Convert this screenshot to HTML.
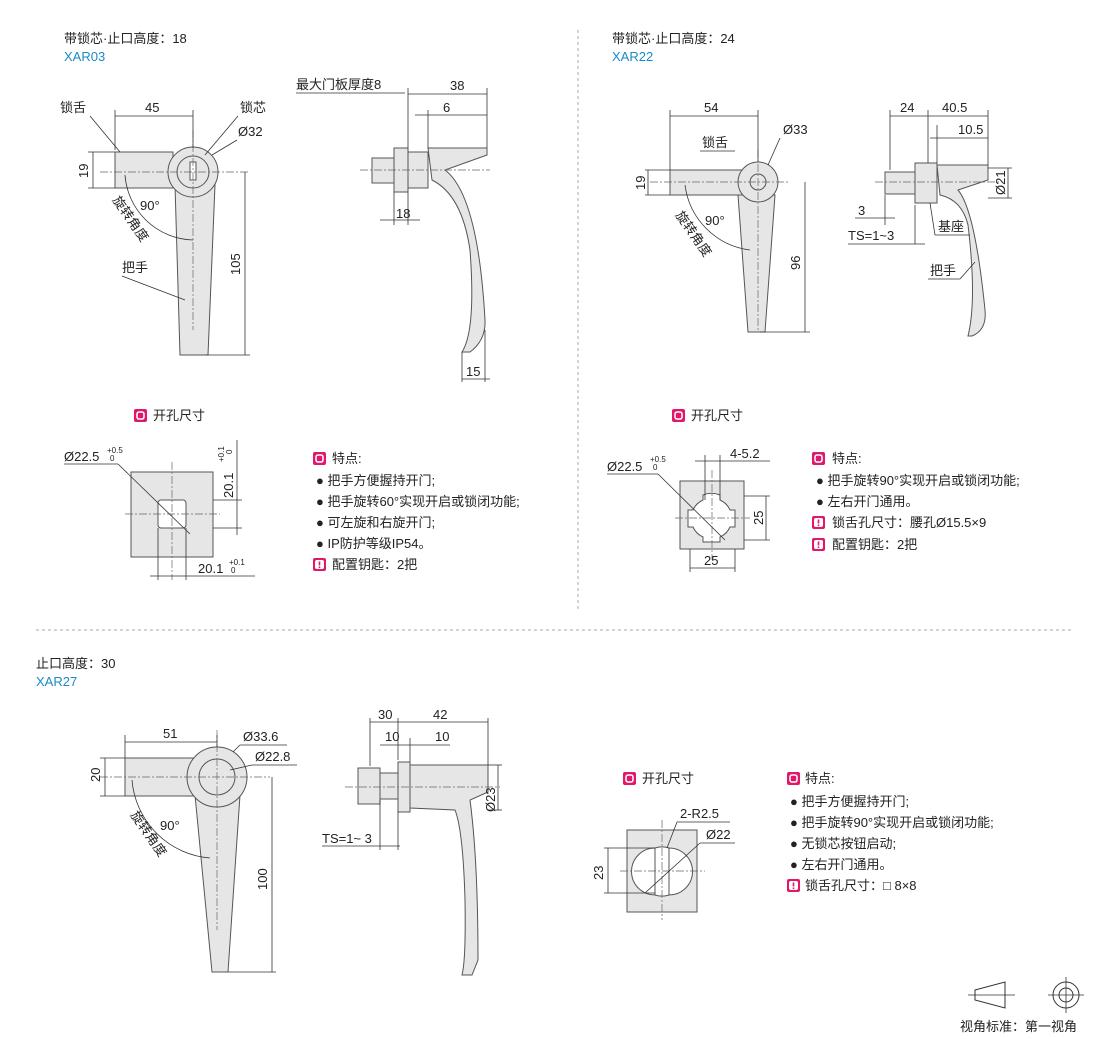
<!DOCTYPE html>
<html><head><meta charset="utf-8"><style>
html,body{margin:0;padding:0;background:#fff}
svg{display:block}
text{font-family:"Liberation Sans","Noto Sans CJK SC",sans-serif;font-size:13px;fill:#222}
text.s{font-size:8px}
.b{fill:#1a8ac8}
.p{fill:#e6e6e6;stroke:#555;stroke-width:1}
.l{stroke:#333;stroke-width:0.8;fill:none}
.c{stroke:#666;stroke-width:0.7;fill:none;stroke-dasharray:8 2 2 2}
.pk{fill:#e0186c;stroke:none}
.pi{fill:none;stroke:#fff;stroke-width:1.5}
</style></head><body>
<svg width="1110" height="1039" viewBox="0 0 1110 1039" xmlns="http://www.w3.org/2000/svg">
<defs>
<g id="ic"><rect class="pk" x="0" y="0" width="13" height="13" rx="2"/><rect class="pi" x="3" y="3" width="7" height="7" rx="2"/></g>
<g id="ex"><rect class="pk" x="0" y="0" width="13" height="13" rx="2"/><rect x="2" y="2" width="9" height="9" rx="2" fill="#fff"/><rect x="5.7" y="3.5" width="1.6" height="4" fill="#e0186c"/><rect x="5.7" y="8.5" width="1.6" height="1.6" fill="#e0186c"/></g>
</defs>
<line x1="578" y1="30" x2="578" y2="612" stroke="#aaa" stroke-dasharray="3 3"/>
<line x1="36" y1="630" x2="1072" y2="630" stroke="#aaa" stroke-dasharray="3 3"/>

<!-- Section 1 -->
<text x="64" y="43">带锁芯·止口高度：18</text>
<text x="64" y="61" class="b">XAR03</text>
<rect class="p" x="115" y="152" width="58" height="36"/>
<polygon class="p" points="175,185 215,185 208,355 180,355"/>
<circle class="p" cx="193" cy="172" r="25"/><circle class="p" cx="193" cy="172" r="16"/>
<rect x="190" y="162" width="6" height="18" fill="#fff" stroke="#555"/>
<line class="c" x1="100" y1="172" x2="250" y2="172"/><line class="c" x1="193" y1="130" x2="193" y2="330"/>
<line class="l" x1="115" y1="110" x2="115" y2="150"/><line class="l" x1="193" y1="110" x2="193" y2="148"/>
<line class="l" x1="115" y1="116" x2="193" y2="116"/><text x="145" y="112">45</text>
<line class="l" x1="88" y1="152" x2="115" y2="152"/><line class="l" x1="88" y1="188" x2="115" y2="188"/>
<line class="l" x1="93" y1="152" x2="93" y2="188"/><text x="88" y="178" transform="rotate(-90 88 178)">19</text>
<line class="l" x1="205" y1="355" x2="250" y2="355"/><line class="l" x1="245" y1="172" x2="245" y2="355"/>
<text x="240" y="275" transform="rotate(-90 240 275)">105</text>
<text x="60" y="112">锁舌</text><line class="l" x1="90" y1="116" x2="120" y2="152"/>
<text x="240" y="112">锁芯</text><line class="l" x1="238" y1="116" x2="205" y2="155"/>
<text x="238" y="136">Ø32</text><line class="l" x1="237" y1="140" x2="212" y2="155"/>
<path class="l" d="M125,175 A70,70 0 0 0 193,240"/>
<text x="140" y="210">90°</text>
<text x="112" y="200" transform="rotate(55 112 200)">旋转角度</text>
<text x="122" y="272">把手</text><line class="l" x1="122" y1="276" x2="185" y2="300"/>
<!-- side -->
<rect class="p" x="372" y="158" width="22" height="25"/>
<rect class="p" x="394" y="148" width="14" height="44"/>
<rect class="p" x="408" y="152" width="20" height="36"/>
<path class="p" d="M428,148 L487,148 L487,155 L445,170 Q478,195 485,320 Q486,340 470,352 L462,352 Q476,330 470,250 Q462,195 432,180 Z"/>
<line class="c" x1="360" y1="170" x2="490" y2="170"/>
<text x="296" y="89">最大门板厚度8</text><line class="l" x1="296" y1="93" x2="405" y2="93"/>
<line class="l" x1="408" y1="88" x2="408" y2="148"/><line class="l" x1="487" y1="88" x2="487" y2="148"/>
<line class="l" x1="408" y1="94" x2="487" y2="94"/><text x="450" y="90">38</text>
<line class="l" x1="428" y1="110" x2="428" y2="148"/><line class="l" x1="415" y1="115" x2="487" y2="115"/><text x="443" y="112">6</text>
<line class="l" x1="394" y1="192" x2="394" y2="225"/><line class="l" x1="408" y1="192" x2="408" y2="225"/>
<line class="l" x1="380" y1="220" x2="420" y2="220"/><text x="396" y="218">18</text>
<line class="l" x1="462" y1="352" x2="462" y2="382"/><line class="l" x1="485" y1="330" x2="485" y2="382"/>
<line class="l" x1="462" y1="379" x2="490" y2="379"/><text x="466" y="376">15</text>
<!-- hole -->
<use href="#ic" x="134" y="409"/><text x="153" y="420">开孔尺寸</text>
<rect class="p" x="131" y="472" width="82" height="85" stroke="#999"/>
<rect x="158" y="500" width="28" height="28" fill="#fff" stroke="#555" rx="3"/>
<line class="c" x1="125" y1="514" x2="220" y2="514"/><line class="c" x1="172" y1="462" x2="172" y2="580"/>
<text x="64" y="461">Ø22.5</text><text class="s" x="107" y="453">+0.5</text><text class="s" x="110" y="461">0</text>
<line class="l" x1="64" y1="464" x2="118" y2="464"/><line class="l" x1="118" y1="464" x2="190" y2="534"/>
<line class="l" x1="213" y1="500" x2="242" y2="500"/><line class="l" x1="213" y1="528" x2="242" y2="528"/>
<line class="l" x1="237" y1="440" x2="237" y2="535"/><text x="233" y="498" transform="rotate(-90 233 498)">20.1</text>
<text class="s" x="224" y="462" transform="rotate(-90 224 462)">+0.1</text><text class="s" x="232" y="454" transform="rotate(-90 232 454)">0</text>
<line class="l" x1="158" y1="528" x2="158" y2="580"/><line class="l" x1="186" y1="528" x2="186" y2="580"/>
<line class="l" x1="150" y1="576" x2="255" y2="576"/><text x="198" y="573">20.1</text><text class="s" x="229" y="565">+0.1</text><text class="s" x="231" y="573">0</text>
<use href="#ic" x="313" y="452"/><text x="332" y="463">特点:</text>
<text x="316" y="485">● 把手方便握持开门;</text>
<text x="316" y="506">● 把手旋转60°实现开启或锁闭功能;</text>
<text x="316" y="527">● 可左旋和右旋开门;</text>
<text x="316" y="548">● IP防护等级IP54。</text>
<use href="#ex" x="313" y="558"/><text x="332" y="569">配置钥匙：2把</text>

<!-- Section 2 -->
<text x="612" y="43">带锁芯·止口高度：24</text>
<text x="612" y="61" class="b">XAR22</text>
<rect class="p" x="670" y="170" width="75" height="25"/>
<polygon class="p" points="738,195 775,195 765,332 748,332"/>
<circle class="p" cx="758" cy="182" r="20"/><circle class="p" cx="758" cy="182" r="8"/>
<line class="c" x1="650" y1="182" x2="790" y2="182"/><line class="c" x1="758" y1="150" x2="758" y2="330"/>
<line class="l" x1="670" y1="110" x2="670" y2="170"/><line class="l" x1="758" y1="110" x2="758" y2="162"/>
<line class="l" x1="670" y1="116" x2="758" y2="116"/><text x="704" y="112">54</text>
<text x="702" y="147">锁舌</text><line class="l" x1="700" y1="151" x2="735" y2="151"/>
<text x="783" y="134">Ø33</text><line class="l" x1="780" y1="138" x2="768" y2="165"/>
<line class="l" x1="645" y1="170" x2="670" y2="170"/><line class="l" x1="645" y1="195" x2="670" y2="195"/>
<line class="l" x1="648" y1="170" x2="648" y2="195"/><text x="645" y="190" transform="rotate(-90 645 190)">19</text>
<path class="l" d="M685,185 A75,75 0 0 0 750,250"/><text x="705" y="225">90°</text>
<text x="675" y="215" transform="rotate(55 675 215)">旋转角度</text>
<line class="l" x1="760" y1="332" x2="810" y2="332"/><line class="l" x1="805" y1="182" x2="805" y2="332"/>
<text x="800" y="270" transform="rotate(-90 800 270)">96</text>
<!-- side -->
<rect class="p" x="885" y="172" width="30" height="22"/>
<rect class="p" x="915" y="163" width="22" height="40"/>
<path class="p" d="M937,165 L988,165 L988,180 L958,190 Q975,210 985,310 Q987,330 972,336 L968,336 Q977,300 968,225 Q962,200 940,195 Z"/>
<line class="c" x1="875" y1="182" x2="1000" y2="182"/>
<line class="l" x1="890" y1="110" x2="890" y2="170"/><line class="l" x1="928" y1="110" x2="928" y2="163"/><line class="l" x1="988" y1="110" x2="988" y2="165"/>
<line class="l" x1="890" y1="116" x2="988" y2="116"/><text x="900" y="112">24</text><text x="942" y="112">40.5</text>
<line class="l" x1="937" y1="125" x2="937" y2="163"/><line class="l" x1="930" y1="138" x2="988" y2="138"/><text x="958" y="134">10.5</text>
<line class="l" x1="988" y1="168" x2="1012" y2="168"/><line class="l" x1="988" y1="198" x2="1012" y2="198"/>
<line class="l" x1="1008" y1="168" x2="1008" y2="198"/><text x="1005" y="195" transform="rotate(-90 1005 195)">Ø21</text>
<line class="l" x1="885" y1="195" x2="885" y2="225"/><line class="l" x1="855" y1="218" x2="895" y2="218"/><text x="858" y="215">3</text>
<text x="848" y="240">TS=1~3</text><line class="l" x1="848" y1="244" x2="925" y2="244"/><line class="l" x1="915" y1="205" x2="915" y2="244"/>
<text x="938" y="231">基座</text><line class="l" x1="935" y1="235" x2="970" y2="235"/><line class="l" x1="935" y1="235" x2="930" y2="203"/>
<text x="930" y="275">把手</text><line class="l" x1="928" y1="279" x2="960" y2="279"/><line class="l" x1="960" y1="279" x2="975" y2="262"/>
<use href="#ic" x="672" y="409"/><text x="691" y="420">开孔尺寸</text>
<rect class="p" x="680" y="481" width="64" height="68" stroke="#999"/>
<path d="M703,495 A22,22 0 0 1 720,495 L720,500 A20,20 0 0 1 730,510 L735,510 L735,527 L730,527 A20,20 0 0 1 720,537 L720,542 L703,542 L703,537 A20,20 0 0 1 693,527 L688,527 L688,510 L693,510 A20,20 0 0 1 703,500 Z" fill="#fff" stroke="#555"/>
<line class="c" x1="675" y1="518" x2="750" y2="518"/><line class="c" x1="712" y1="470" x2="712" y2="560"/>
<text x="607" y="471">Ø22.5</text><text class="s" x="650" y="462">+0.5</text><text class="s" x="653" y="470">0</text>
<line class="l" x1="607" y1="474" x2="658" y2="474"/><line class="l" x1="658" y1="474" x2="725" y2="540"/>
<line class="l" x1="705" y1="455" x2="705" y2="500"/><line class="l" x1="720" y1="455" x2="720" y2="500"/>
<line class="l" x1="695" y1="461" x2="770" y2="461"/><text x="730" y="458">4-5.2</text>
<line class="l" x1="744" y1="496" x2="770" y2="496"/><line class="l" x1="744" y1="540" x2="770" y2="540"/>
<line class="l" x1="766" y1="496" x2="766" y2="540"/><text x="763" y="525" transform="rotate(-90 763 525)">25</text>
<line class="l" x1="690" y1="549" x2="690" y2="572"/><line class="l" x1="735" y1="549" x2="735" y2="572"/>
<line class="l" x1="690" y1="568" x2="735" y2="568"/><text x="704" y="565">25</text>
<use href="#ic" x="812" y="452"/><text x="832" y="463">特点:</text>
<text x="816" y="485">● 把手旋转90°实现开启或锁闭功能;</text>
<text x="816" y="506">● 左右开门通用。</text>
<use href="#ex" x="812" y="516"/><text x="832" y="527">锁舌孔尺寸：腰孔Ø15.5×9</text>
<use href="#ex" x="812" y="538"/><text x="832" y="549">配置钥匙：2把</text>

<!-- Section 3 -->
<text x="36" y="668">止口高度：30</text>
<text x="36" y="686" class="b">XAR27</text>
<rect class="p" x="125" y="758" width="75" height="38"/>
<polygon class="p" points="195,795 240,795 228,972 212,972"/>
<circle class="p" cx="217" cy="777" r="30"/><circle class="p" cx="217" cy="777" r="18"/>
<line class="c" x1="100" y1="777" x2="270" y2="777"/><line class="c" x1="217" y1="730" x2="217" y2="930"/>
<line class="l" x1="125" y1="735" x2="125" y2="758"/><line class="l" x1="217" y1="735" x2="217" y2="747"/>
<line class="l" x1="125" y1="742" x2="217" y2="742"/><text x="163" y="738">51</text>
<text x="243" y="741">Ø33.6</text><line class="l" x1="240" y1="745" x2="287" y2="745"/><line class="l" x1="240" y1="745" x2="233" y2="752"/>
<text x="255" y="761">Ø22.8</text><line class="l" x1="252" y1="765" x2="297" y2="765"/><line class="l" x1="252" y1="765" x2="230" y2="770"/>
<line class="l" x1="100" y1="758" x2="125" y2="758"/><line class="l" x1="100" y1="796" x2="125" y2="796"/>
<line class="l" x1="105" y1="758" x2="105" y2="796"/><text x="100" y="782" transform="rotate(-90 100 782)">20</text>
<path class="l" d="M132,780 A85,85 0 0 0 210,858"/><text x="160" y="830">90°</text>
<text x="130" y="815" transform="rotate(55 130 815)">旋转角度</text>
<line class="l" x1="228" y1="972" x2="276" y2="972"/><line class="l" x1="272" y1="777" x2="272" y2="972"/>
<text x="267" y="890" transform="rotate(-90 267 890)">100</text>
<!-- side -->
<rect class="p" x="358" y="768" width="22" height="36"/>
<rect class="p" x="380" y="773" width="18" height="26"/>
<rect class="p" x="398" y="762" width="12" height="50"/>
<path class="p" d="M410,765 L488,765 L488,792 L470,800 Q478,860 478,960 L472,975 L462,975 Q466,960 465,900 Q463,830 455,810 L410,808 Z"/>
<line class="c" x1="345" y1="787" x2="500" y2="787"/>
<line class="l" x1="370" y1="718" x2="370" y2="766"/><line class="l" x1="398" y1="718" x2="398" y2="760"/><line class="l" x1="488" y1="718" x2="488" y2="765"/>
<line class="l" x1="370" y1="722" x2="488" y2="722"/><text x="378" y="719">30</text><text x="433" y="719">42</text>
<line class="l" x1="410" y1="738" x2="410" y2="762"/><line class="l" x1="380" y1="745" x2="450" y2="745"/><text x="385" y="741">10</text><text x="435" y="741">10</text>
<line class="l" x1="488" y1="765" x2="502" y2="765"/><line class="l" x1="488" y1="810" x2="502" y2="810"/>
<line class="l" x1="498" y1="765" x2="498" y2="810"/><text x="495" y="812" transform="rotate(-90 495 812)">Ø23</text>
<line class="l" x1="380" y1="800" x2="380" y2="850"/><line class="l" x1="398" y1="812" x2="398" y2="850"/>
<text x="322" y="843">TS=1~ 3</text><line class="l" x1="322" y1="846" x2="400" y2="846"/>
<use href="#ic" x="623" y="772"/><text x="642" y="783">开孔尺寸</text>
<rect class="p" x="627" y="830" width="70" height="82" stroke="#999"/>
<path d="M655,848 A23,23 0 0 1 669,848 L669,895 A23,23 0 0 1 655,895 Z M655,848 A23,23 0 0 0 655,895 M669,848 A23,23 0 0 1 669,895" fill="#fff" stroke="#555"/>
<line class="c" x1="620" y1="871" x2="705" y2="871"/><line class="c" x1="662" y1="820" x2="662" y2="920"/>
<text x="680" y="818">2-R2.5</text><line class="l" x1="677" y1="822" x2="730" y2="822"/><line class="l" x1="677" y1="822" x2="667" y2="848"/>
<text x="706" y="839">Ø22</text><line class="l" x1="700" y1="843" x2="735" y2="843"/><line class="l" x1="700" y1="843" x2="645" y2="893"/>
<line class="l" x1="604" y1="848" x2="655" y2="848"/><line class="l" x1="604" y1="893" x2="655" y2="893"/>
<line class="l" x1="608" y1="848" x2="608" y2="893"/><text x="603" y="880" transform="rotate(-90 603 880)">23</text>
<use href="#ic" x="787" y="772"/><text x="805" y="783">特点:</text>
<text x="790" y="806">● 把手方便握持开门;</text>
<text x="790" y="827">● 把手旋转90°实现开启或锁闭功能;</text>
<text x="790" y="848">● 无锁芯按钮启动;</text>
<text x="790" y="869">● 左右开门通用。</text>
<use href="#ex" x="787" y="879"/><text x="805" y="890">锁舌孔尺寸：□ 8×8</text>

<!-- view standard -->
<polygon points="975,990 1005,982 1005,1008 975,1000" fill="none" stroke="#333"/>
<line class="l" x1="968" y1="995" x2="1015" y2="995"/>
<circle cx="1066" cy="995" r="13" fill="none" stroke="#333"/><circle cx="1066" cy="995" r="7" fill="none" stroke="#333"/>
<line class="l" x1="1048" y1="995" x2="1084" y2="995"/><line class="l" x1="1066" y1="977" x2="1066" y2="1013"/>
<text x="960" y="1031">视角标准：第一视角</text>
</svg>
</body></html>
